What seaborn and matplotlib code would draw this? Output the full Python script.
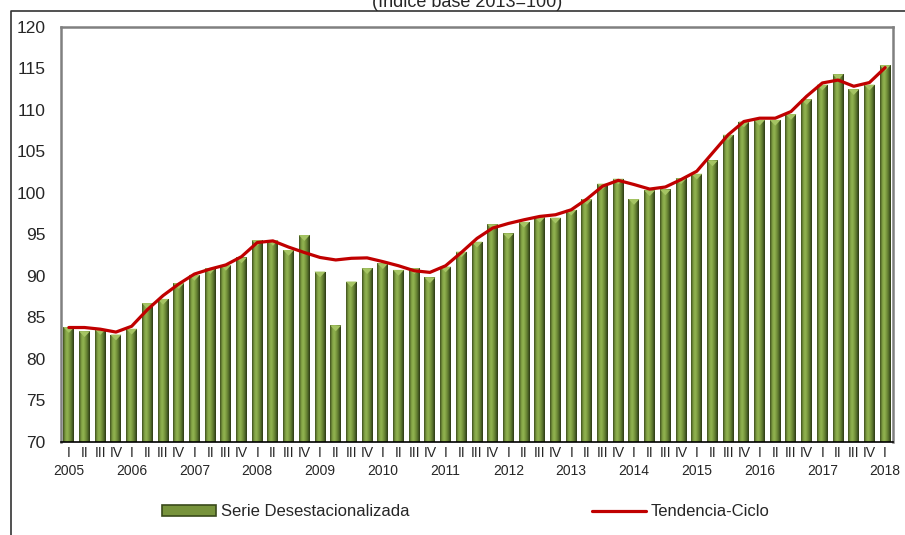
import numpy as np
import pandas as pd
import matplotlib
matplotlib.use("Agg")
import matplotlib.pyplot as plt
import seaborn as sns
from matplotlib.colors import LinearSegmentedColormap
from matplotlib.patches import Patch, Polygon
from matplotlib.lines import Line2D

# quarterly series, 2005-I .. 2018-I
years = list(range(2005, 2019))
quarters = ["I", "II", "III", "IV"]
serie = [83.8, 83.3, 83.55, 82.9, 83.6, 86.7, 87.2, 89.1, 90.1, 90.9,
         91.3, 92.2, 94.3, 94.3, 93.1, 94.9, 90.5, 84.0, 89.3, 90.9,
         91.5, 90.7, 90.9, 89.8, 91.1, 92.9, 94.1, 96.2, 95.1, 96.5,
         97.1, 97.0, 97.95, 99.25, 101.1, 101.7, 99.25, 100.3, 100.4, 101.75,
         102.3, 103.9, 107.0, 108.6, 108.8, 108.8, 109.5, 111.3, 113.05, 114.3,
         112.5, 113.05, 115.4]
tendencia = [83.75, 83.75, 83.55, 83.2, 83.9, 85.9, 87.6, 89.0, 90.2, 90.8,
             91.3, 92.3, 94.0, 94.2, 93.45, 92.8, 92.2, 91.9, 92.1, 92.15,
             91.7, 91.2, 90.6, 90.4, 91.2, 92.8, 94.5, 95.75, 96.3, 96.75,
             97.15, 97.35, 97.95, 99.25, 100.8, 101.5, 101.0, 100.45, 100.7, 101.6,
             102.6, 104.8, 107.0, 108.6, 109.0, 109.0, 109.8, 111.65, 113.25, 113.6,
             112.85, 113.3, 115.1]

periodo = [f"{y}-{q}" for y in years for q in quarters][:len(serie)]
etiquetas = [q + ("\n" + str(y) if q == "I" else "") for y in years for q in quarters][:len(serie)]

df = pd.DataFrame({"periodo": periodo, "serie": serie, "tendencia": tendencia,
                   "pos": np.arange(len(serie))})

sns.set_style("white")
plt.rcParams["font.family"] = ["Liberation Sans", "DejaVu Sans"]

fig = plt.figure(figsize=(9.05, 5.35), dpi=100)
ax = fig.add_axes([61 / 905, 1 - 441.5 / 535, 832 / 905, 414.5 / 535])

sns.barplot(data=df, x="periodo", y="serie", color="#77933c", width=0.7,
            saturation=1, ax=ax, zorder=2)

# cylinder-like shading on each bar
cmap = LinearSegmentedColormap.from_list(
    "cil", ["#3a4a1b", "#7f9f42", "#93b552", "#78963d", "#55702b", "#2a3512"])
grad = np.linspace(0, 1, 64).reshape(1, -1)
for p in ax.patches:
    x0, w, h = p.get_x(), p.get_width(), p.get_height()
    ax.imshow(grad, cmap=cmap, aspect="auto", extent=(x0, x0 + w, 0, h),
              interpolation="bicubic", zorder=3)
    ax.add_patch(Polygon([(x0, h), (x0 + w, h), (x0 + w / 2, h - 0.7)],
                         closed=True, facecolor="#a5c463", edgecolor="none", zorder=4))

sns.lineplot(data=df, x="pos", y="tendencia", color="#c00000", linewidth=2.3,
             ax=ax, zorder=5)

ax.set_xlim(-0.5, len(serie) - 0.5)
ax.set_ylim(70, 120)
ax.set_yticks(range(70, 121, 5))
ax.set_xticks(df["pos"])
ax.set_xticklabels(etiquetas, fontsize=10, va="top", linespacing=1.4)
ax.set_xticks(np.arange(-0.5, len(serie), 12), minor=True)
ax.tick_params(axis="x", which="major", length=0, pad=3)
ax.tick_params(axis="x", which="minor", length=4, width=1, color="black", direction="out")
ax.tick_params(axis="y", length=0, pad=11, labelsize=12.5)
ax.set_xlabel("")
ax.set_ylabel("")

for s in ["top", "left", "right"]:
    ax.spines[s].set_color("#808080")
    ax.spines[s].set_linewidth(1.8)
ax.spines["bottom"].set_color("black")
ax.spines["bottom"].set_linewidth(1.2)
ax.spines["bottom"].set_zorder(6)

handles = [Patch(facecolor="#77933c", edgecolor="#3a4a1b", linewidth=1.2),
           Line2D([0], [0], color="#c00000", linewidth=2.3)]
fig.legend(handles, ["Serie Desestacionalizada", "Tendencia-Ciclo"],
           loc="center", bbox_to_anchor=(466 / 905, 1 - 512 / 535), ncol=2,
           frameon=False, fontsize=12, handlelength=3.2, handleheight=0.6,
           handletextpad=0.3, columnspacing=11)

fig.text(467 / 905, 0.999, "(Índice base 2013=100)", ha="center", va="center",
         fontsize=13)
y_b = 1 - 10.7 / 535
fig.add_artist(Line2D([10.7 / 905, 10.7 / 905, 1], [0, y_b, y_b],
                      transform=fig.transFigure, color="#333333", linewidth=1.2))

fig.savefig("out.png", dpi=100)
